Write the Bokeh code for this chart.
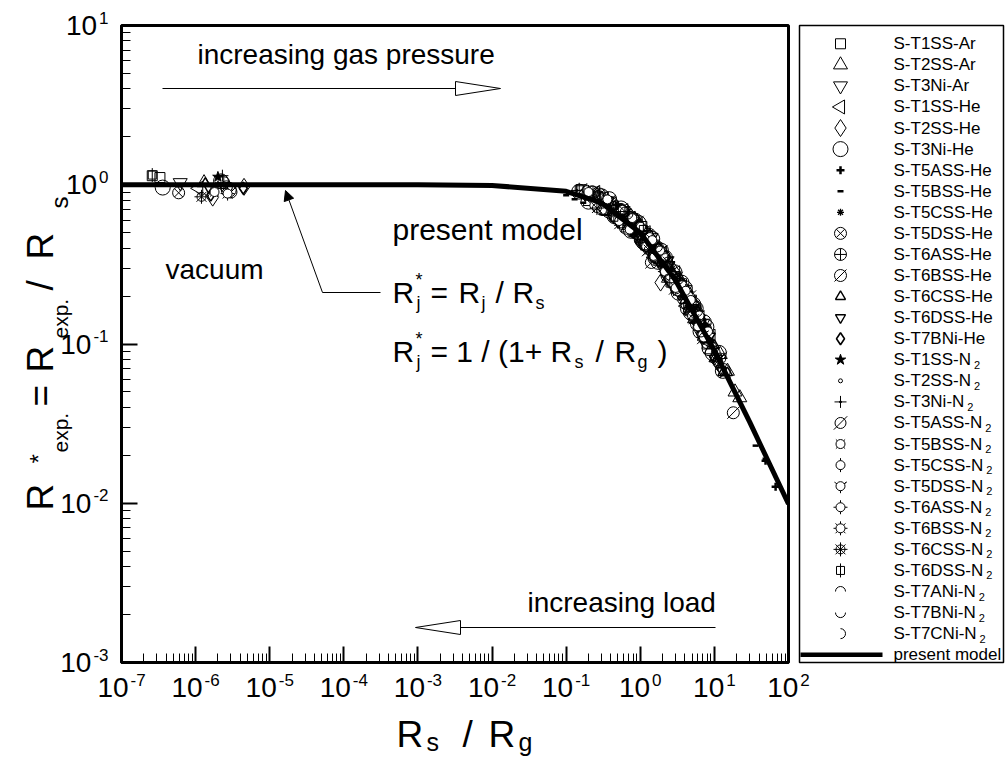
import math
from bokeh.plotting import figure
from bokeh.models import Range1d, FixedTicker, Label, CustomJSTickFormatter, Arrow, NormalHead, GridBox
from bokeh.layouts import row, column
from bokeh.embed import file_html
from bokeh.resources import INLINE
from bokeh.core.properties import value

FONT = "Liberation Sans"

# ---------------- data ----------------
x_ticks = [1e-7, 1e-6, 1e-5, 1e-4, 1e-3, 1e-2, 1e-1, 1e0, 1e1, 1e2]
x_tick_exp = ["-7", "-6", "-5", "-4", "-3", "-2", "-1", "0", "1", "2"]
y_ticks = [1e-3, 1e-2, 1e-1, 1e0, 1e1]
y_tick_exp = ["-3", "-2", "-1", "0", "1"]

model_x = [1e-7, 1e-6, 1e-5, 1e-4, 1e-3, 1e-2, 0.1, 0.3, 1.0, 3.0, 10.0, 30.0, 100.0]
model_y = [1.0, 1.0, 1.0, 1.0, 0.999, 0.99, 0.909, 0.769, 0.5, 0.25, 0.0909, 0.0323, 0.0099]

x_T1SS_Ar = [2.6e-7, 3.3e-7, 0.16, 0.35, 0.62, 0.8, 1.05, 1.5, 2.0, 2.6, 3.6, 4.5, 6.2, 8.0,
             0.25, 0.5, 1.25, 1.75, 3.0, 5.3]
y_T1SS_Ar = [1.14, 1.11, 0.931, 0.689, 0.679, 0.511, 0.547, 0.368, 0.353, 0.245, 0.239, 0.171, 0.150, 0.100,
             0.848, 0.627, 0.48, 0.342, 0.265, 0.146]
x_T2SS_Ar = [1.3e-6, 0.21, 0.45, 0.68, 0.9, 1.25, 1.8, 2.4, 3.5, 4.8, 6.0, 9.0, 12, 19, 22,
             0.3, 0.55, 1.05, 1.5, 2.1, 2.9, 4.1, 5.4, 7.5, 10.5, 15]
y_T2SS_Ar = [1.03, 0.785, 0.759, 0.536, 0.589, 0.413, 0.393, 0.259, 0.249, 0.163, 0.157, 0.092, 0.086, 0.05, 0.046,
             0.815, 0.606, 0.527, 0.368, 0.342, 0.241, 0.212, 0.144, 0.125, 0.082, 0.0675]
x_T3Ni_Ar = [6.2e-7, 0.3, 0.5, 0.7, 1.1, 1.4, 1.9, 2.3, 3.0, 4.0, 5.5, 7.0, 10.5]
y_T3Ni_Ar = [1.03, 0.846, 0.6, 0.635, 0.428, 0.467, 0.317, 0.333, 0.225, 0.22, 0.143, 0.135, 0.08]
x_T1SS_He = [1.1e-6, 0.25, 0.42, 0.6, 0.95, 1.2, 1.65, 2.0, 2.8, 3.0, 4.2, 5.0, 7.5, 9.0,
             0.32, 0.75, 1.35, 2.4, 3.5, 5.8, 11]
y_T1SS_He = [0.95, 0.896, 0.634, 0.688, 0.472, 0.5, 0.339, 0.373, 0.237, 0.28, 0.173, 0.184, 0.106, 0.112,
             0.712, 0.617, 0.4, 0.318, 0.209, 0.159, 0.078]
x_T2SS_He = [1.7e-6, 4.5e-6, 0.18, 0.5, 0.75, 1.0, 1.35, 1.88, 2.2, 2.8, 3.8, 5.2, 6.5, 8.5, 11]
y_T2SS_He = [0.83, 0.97, 0.889, 0.6, 0.628, 0.45, 0.469, 0.243, 0.281, 0.289, 0.187, 0.177, 0.12, 0.116, 0.077]
x_T3Ni_He = [3.6e-7, 2.2e-6, 2.8e-6, 0.15, 0.3, 0.45, 0.55, 0.75, 0.95, 1.1, 1.3, 1.6, 1.9, 2.4, 2.9,
             3.3, 4.0, 4.8, 5.6, 6.5, 7.8, 9.5, 11.5, 13,
             0.2, 0.38, 0.65, 0.85, 1.2, 1.45, 1.75, 2.15, 2.65, 3.6, 4.4, 5.2, 6.0, 7.2, 8.6]
y_T3Ni_He = [0.96, 1.05, 0.93, 0.905, 0.846, 0.635, 0.71, 0.514, 0.575, 0.438, 0.479, 0.347, 0.386, 0.27,
             0.282, 0.21, 0.224, 0.158, 0.167, 0.12, 0.128, 0.0876, 0.088, 0.0678,
             0.783, 0.812, 0.545, 0.595, 0.428, 0.457, 0.328, 0.349, 0.258, 0.243, 0.167, 0.177, 0.134,
             0.137, 0.094]
x_T5ASS_He = [3.8, 8.5, 49, 67]
y_T5ASS_He = [0.2, 0.105, 0.0185, 0.0127]
x_T5BSS_He = [0.1, 0.13, 0.17, 36, 49]
y_T5BSS_He = [0.86, 0.81, 0.77, 0.023, 0.019]
x_T5CSS_He = [2.0e-6, 0.4, 0.85, 1.3, 1.95, 2.7, 4.3, 5.5]
y_T5CSS_He = [1.0, 0.786, 0.486, 0.478, 0.305, 0.297, 0.17, 0.169]
x_T5DSS_He = [5.9e-7, 2.6e-6, 0.22, 0.48, 0.65, 1.0, 1.7, 2.5, 4.2, 7.0, 0.35, 0.8, 1.3, 2.1, 3.2, 5.5]
y_T5DSS_He = [0.89, 0.97, 0.902, 0.622, 0.667, 0.45, 0.407, 0.257, 0.211, 0.115,
              0.697, 0.612, 0.409, 0.355, 0.224, 0.169]
x_T6ASS_He = [2.4e-6, 0.28, 0.58, 0.85, 1.15, 2.1, 3.1, 5.2, 8.0]
y_T6ASS_He = [1.03, 0.875, 0.57, 0.594, 0.419, 0.355, 0.22, 0.177, 0.102]
x_T6BSS_He = [3.0e-6, 0.23, 0.7, 1.41, 2.2, 3.1, 6.0, 18]
y_T6BSS_He = [0.9, 0.9, 0.578, 0.325, 0.31, 0.26, 0.138, 0.037]
x_T6CSS_He = [1.35e-6, 0.33, 0.6, 1.0, 1.5, 2.2, 3.3, 4.6, 5.8, 7.5, 10, 13, 15,
              0.45, 0.8, 1.25, 1.8, 2.7, 4.0, 6.6]
y_T6CSS_He = [1.02, 0.677, 0.688, 0.45, 0.44, 0.281, 0.256, 0.161, 0.162, 0.106, 0.098, 0.066, 0.066,
              0.731, 0.523, 0.471, 0.336, 0.286, 0.188, 0.14]
x_T6DSS_He = [1.5e-6, 0.38, 0.8, 1.15, 1.75, 2.5, 3.4, 4.4, 6.6, 8.8, 12.5]
y_T6DSS_He = [0.96, 0.798, 0.5, 0.512, 0.328, 0.315, 0.204, 0.204, 0.119, 0.112, 0.068]
x_T7BNi_He = [4.4e-6, 1.6e-6, 0.42, 0.95, 1.45, 1.75, 2.6, 3.6, 5.0, 6.8, 9.8]
y_T7BNi_He = [0.95, 0.86, 0.634, 0.564, 0.367, 0.4, 0.25, 0.239, 0.15, 0.141, 0.083]
x_T1SS_N2 = [2.0e-6, 0.5, 0.8, 1.05, 1.6, 2.0, 3.0, 3.9, 5.3, 7.5]
y_T1SS_N2 = [1.12, 0.734, 0.5, 0.537, 0.347, 0.366, 0.225, 0.224, 0.143, 0.13]
x_T2SS_N2 = [0.6, 0.9, 1.25, 1.8, 2.9, 4.0, 5.6, 9.2]
y_T2SS_N2 = [0.575, 0.568, 0.408, 0.386, 0.236, 0.216, 0.14, 0.106]
x_T3Ni_N2 = [2.3e-6, 0.14, 0.7, 1.0, 1.6, 2.3, 3.4, 4.7, 6.2]
y_T3Ni_N2 = [1.14, 0.921, 0.647, 0.45, 0.424, 0.273, 0.25, 0.158, 0.153]
x_T5ASS_N2 = [0.27, 0.55, 0.9, 1.3, 1.9, 3.0, 4.6, 7.2, 12]
y_T5ASS_N2 = [0.85, 0.58, 0.579, 0.392, 0.38, 0.225, 0.197, 0.11, 0.081]
x_T5BSS_N2 = [1.8e-6, 0.32, 0.78, 1.55, 2.1, 3.2, 4.5, 6.0]
y_T5BSS_N2 = [0.9, 0.697, 0.618, 0.353, 0.355, 0.214, 0.2, 0.129]
x_T5CSS_N2 = [0.36, 0.72, 1.35, 2.45, 3.7, 5.0, 8.2]
y_T5CSS_N2 = [0.809, 0.523, 0.469, 0.261, 0.234, 0.15, 0.12]
x_T5DSS_N2 = [0.24, 0.58, 1.2, 1.85, 2.7, 4.8, 6.9]
y_T5DSS_N2 = [0.742, 0.696, 0.41, 0.386, 0.243, 0.189, 0.114]
x_T6ASS_N2 = [0.19, 0.47, 1.02, 2.15, 4.1, 7.2]
y_T6ASS_N2 = [0.924, 0.612, 0.545, 0.285, 0.216, 0.11]
x_T6BSS_N2 = [2.7e-6, 0.2, 0.52, 1.45, 3.0, 6.3]
y_T6BSS_N2 = [0.88, 0.9, 0.592, 0.449, 0.225, 0.151]
x_T6CSS_N2 = [1.2e-6, 0.26, 0.62, 1.3, 2.35, 5.3]
y_T6CSS_N2 = [0.84, 0.714, 0.679, 0.391, 0.329, 0.143]
x_T6DSS_N2 = [2.6e-7, 0.15, 0.44, 1.1, 2.5]
y_T6DSS_N2 = [1.15, 0.93, 0.625, 0.524, 0.257]
x_T7ANi_N2 = [0.55, 1.15, 2.2, 3.7, 7.8, 14]
y_T7ANi_N2 = [0.71, 0.419, 0.344, 0.192, 0.125, 0.061]
x_T7BNi_N2 = [0.3, 0.68, 1.5, 3.3, 6.6, 11.5]
y_T7BNi_N2 = [0.692, 0.655, 0.36, 0.256, 0.119, 0.088]
x_T7CNi_N2 = [0.4, 0.88, 1.7, 3.05, 5.9, 10.5]
y_T7CNi_N2 = [0.786, 0.479, 0.407, 0.222, 0.16, 0.078]

SERIES = [
    ("S-T1SS-Ar", "sq", x_T1SS_Ar, y_T1SS_Ar),
    ("S-T2SS-Ar", "tri", x_T2SS_Ar, y_T2SS_Ar),
    ("S-T3Ni-Ar", "itri", x_T3Ni_Ar, y_T3Ni_Ar),
    ("S-T1SS-He", "ltri", x_T1SS_He, y_T1SS_He),
    ("S-T2SS-He", "dia", x_T2SS_He, y_T2SS_He),
    ("S-T3Ni-He", "cir", x_T3Ni_He, y_T3Ni_He),
    ("S-T5ASS-He", "pbold", x_T5ASS_He, y_T5ASS_He),
    ("S-T5BSS-He", "dbold", x_T5BSS_He, y_T5BSS_He),
    ("S-T5CSS-He", "ast", x_T5CSS_He, y_T5CSS_He),
    ("S-T5DSS-He", "cx", x_T5DSS_He, y_T5DSS_He),
    ("S-T6ASS-He", "cc", x_T6ASS_He, y_T6ASS_He),
    ("S-T6BSS-He", "cslash", x_T6BSS_He, y_T6BSS_He),
    ("S-T6CSS-He", "stri", x_T6CSS_He, y_T6CSS_He),
    ("S-T6DSS-He", "sitri", x_T6DSS_He, y_T6DSS_He),
    ("S-T7BNi-He", "sdia", x_T7BNi_He, y_T7BNi_He),
    ("S-T1SS-N2", "star", x_T1SS_N2, y_T1SS_N2),
    ("S-T2SS-N2", "dot", x_T2SS_N2, y_T2SS_N2),
    ("S-T3Ni-N2", "pthin", x_T3Ni_N2, y_T3Ni_N2),
    ("S-T5ASS-N2", "cslash2", x_T5ASS_N2, y_T5ASS_N2),
    ("S-T5BSS-N2", "cxt", x_T5BSS_N2, y_T5BSS_N2),
    ("S-T5CSS-N2", "cvt", x_T5CSS_N2, y_T5CSS_N2),
    ("S-T5DSS-N2", "cyt", x_T5DSS_N2, y_T5DSS_N2),
    ("S-T6ASS-N2", "cpt", x_T6ASS_N2, y_T6ASS_N2),
    ("S-T6BSS-N2", "cat", x_T6BSS_N2, y_T6BSS_N2),
    ("S-T6CSS-N2", "cax", x_T6CSS_N2, y_T6CSS_N2),
    ("S-T6DSS-N2", "sqv", x_T6DSS_N2, y_T6DSS_N2),
    ("S-T7ANi-N2", "cap", x_T7ANi_N2, y_T7ANi_N2),
    ("S-T7BNi-N2", "cup", x_T7BNi_N2, y_T7BNi_N2),
    ("S-T7CNi-N2", "sup", x_T7CNi_N2, y_T7CNi_N2),
]
MODEL_LABEL = "present model"

# ---------------- marker styles ----------------
PI = math.pi
KINDS = {
    "sq": [("square", 10, 1, None, 0)],
    "tri": [("triangle", 14, 1, None, 0)],
    "itri": [("inverted_triangle", 14, 1, None, 0)],
    "ltri": [("triangle", 14, 1, None, PI / 2)],
    "dia": [("diamond", 17, 1, None, 0)],
    "cir": [("circle", 15, 1, None, 0)],
    "pbold": [("cross", 8, 2.5, None, 0)],
    "dbold": [("dash", 6, 2.5, None, 0)],
    "ast": [("asterisk", 7, 1.3, None, 0)],
    "cx": [("circle_x", 12, 1, None, 0)],
    "cc": [("circle_cross", 12, 1, None, 0)],
    "cslash": [("circle", 12, 1, None, 0), ("dash", 17, 1, None, PI / 4)],
    "stri": [("triangle", 10, 1.4, None, 0)],
    "sitri": [("inverted_triangle", 10, 1.4, None, 0)],
    "sdia": [("diamond", 12, 1.6, None, 0)],
    "star": [("star", 11, 1, "black", 0)],
    "dot": [("circle", 4, 1, None, 0)],
    "pthin": [("cross", 12, 1, None, 0), ("circle", 2, 1, "black", 0)],
    "cslash2": [("circle", 11, 1, None, 0), ("dash", 19, 1, None, PI / 4)],
    "cxt": [("x", 13, 1, None, 0), ("circle", 9, 1, "white", 0)],
    "cvt": [("dash", 14, 1, None, PI / 2), ("circle", 9, 1, "white", 0)],
    "cyt": [("y", 14, 1, None, 0), ("circle", 9, 1, "white", 0)],
    "cpt": [("cross", 14, 1, None, 0), ("circle", 9, 1, "white", 0)],
    "cat": [("asterisk", 14, 1, None, 0), ("circle", 9, 1, "white", 0)],
    "cax": [("asterisk", 14, 1, None, 0), ("circle", 9, 1, None, 0)],
    "sqv": [("dash", 14, 1, None, PI / 2), ("square", 8, 1, None, 0)],
    "cap": [("arc", 5, 0.0, PI)],
    "cup": [("arc", 5, PI, 2 * PI)],
    "sup": [("arc", 5, -PI / 2, PI / 2)],
}


def draw(fig, kind, xs, ys):
    for layer in KINDS[kind]:
        if layer[0] == "arc":
            _, r, a0, a1 = layer
            fig.arc(x=xs, y=ys, radius=r, radius_units="screen", start_angle=a0,
                    end_angle=a1, line_color="black", line_width=1)
        else:
            m, size, lw, fill, ang = layer
            fig.scatter(x=xs, y=ys, marker=m, size=size, line_color="black",
                        line_width=lw, fill_color=fill, angle=ang)


# ---------------- text metrics (Arial / Liberation Sans) ----------------
W = {" ": 278, "*": 389, "(": 333, ")": 333, "+": 584, "-": 333, ".": 278, "/": 278,
     "=": 584, "A": 667, "B": 667, "C": 722, "D": 722, "H": 722, "N": 722, "R": 722,
     "S": 667, "T": 611, "a": 556, "c": 500, "d": 556, "e": 556, "g": 556, "i": 222,
     "j": 222, "l": 222, "m": 833, "n": 556, "o": 556, "p": 556, "r": 333, "s": 500,
     "t": 278, "u": 556, "v": 500, "x": 500}
MID = 0.358   # distance (in em) from baseline up to the "middle" anchor


def tw(text, size):
    return sum(W.get(c, 556) for c in text) * size / 1000.0


# ---------------- main plot ----------------
FL, FT, FW, FH = 121, 25, 667, 637
FB = FT + FH
PW, TOTW, TOTH = FL + FW + 10, 1005, 762

p = figure(width=PW, height=TOTH, x_axis_type="log", y_axis_type="log",
           x_range=Range1d(x_ticks[0], x_ticks[-1]), y_range=Range1d(y_ticks[0], y_ticks[-1]),
           min_border_left=FL, min_border_right=10, min_border_top=FT,
           min_border_bottom=TOTH - FB, toolbar_location=None, output_backend="svg",
           title=None)
p.grid.visible = False
p.outline_line_color = "black"
p.outline_line_width = 3

minor_x = [m * t for t in x_ticks[:-1] for m in range(2, 10)]
minor_y = [m * t for t in y_ticks[:-1] for m in range(2, 10)]
p.xaxis.ticker = FixedTicker(ticks=x_ticks, minor_ticks=minor_x)
p.yaxis.ticker = FixedTicker(ticks=y_ticks, minor_ticks=minor_y)
for ax in (p.xaxis[0], p.yaxis[0]):
    ax.axis_line_width = 3
    ax.major_tick_in = 16
    ax.major_tick_out = 0
    ax.major_tick_line_width = 2
    ax.minor_tick_in = 9
    ax.minor_tick_out = 0
    ax.minor_tick_line_width = 1
    ax.formatter = CustomJSTickFormatter(code="return ''")
    ax.major_label_standoff = 0

for name, kind, xs, ys in SERIES:
    draw(p, kind, xs, ys)
p.line(model_x, model_y, line_color="black", line_width=5)

# ---------------- legend panel ----------------
LH = 638
lg = figure(width=TOTW - PW, height=TOTH, x_range=Range1d(0, 204),
            y_range=Range1d(LH, 0), min_border_left=1, min_border_right=2,
            min_border_top=FT, min_border_bottom=TOTH - FT - LH,
            toolbar_location=None, output_backend="svg", title=None,
            x_axis_location=None, y_axis_location=None)
lg.grid.visible = False
lg.outline_line_color = "black"
lg.outline_line_width = 1.5

ROW0, ROWH, MX, TX = 18.3, 21.1, 41, 94
main_txt, sub_x, sub_y, rows = [], [], [], []
for i, (name, kind, xs, ys) in enumerate(SERIES):
    ry = ROW0 + i * ROWH
    rows.append(ry)
    draw(lg, kind, [MX], [ry])
    if name.endswith("N2"):
        base = name[:-1]
        main_txt.append(base)
        sub_x.append(TX + tw(base, 17) + 3)
        sub_y.append(ry + 5)
    else:
        main_txt.append(name)
mrow = ROW0 + len(SERIES) * ROWH
lg.line([1, 83], [mrow, mrow], line_color="black", line_width=4.5)
main_txt.append(MODEL_LABEL)
rows.append(mrow)
lg.text(x=[TX] * len(main_txt), y=rows, text=main_txt, text_font=value(FONT),
        text_font_size="17px", text_baseline="middle", text_align="left", text_color="black")
lg.text(x=sub_x, y=sub_y, text=["2"] * len(sub_x), text_font=value(FONT),
        text_font_size="11px", text_baseline="middle", text_align="left", text_color="black")

# ---------------- transparent overlay for all free texts (canvas pixels) ----------------
ov = figure(width=TOTW, height=TOTH, x_range=Range1d(0, TOTW), y_range=Range1d(TOTH, 0),
            min_border=0, min_border_left=0, min_border_right=0, min_border_top=0,
            min_border_bottom=0, toolbar_location=None, output_backend="svg", title=None,
            x_axis_location=None, y_axis_location=None)
ov.grid.visible = False
ov.outline_line_color = None
ov.background_fill_color = None
ov.border_fill_color = None


def put(text, px, py, size, align="left", angle=0.0):
    ov.add_layout(Label(x=px, y=py, text=text, text_font=FONT, text_font_size=f"{size}px",
                        text_align=align, text_baseline="middle", angle=angle,
                        text_color="black"))


def put_b(text, px, base_y, size, align="left"):
    """horizontal text given by its baseline"""
    put(text, px, base_y - MID * size, size, align)


def put_v(text, base_x, py, size):
    """text rotated 90 degrees given by its baseline (a vertical line at base_x)"""
    put(text, base_x - MID * size, py, size, angle=PI / 2)


def x_to_px(x):
    lo, hi = math.log10(x_ticks[0]), math.log10(x_ticks[-1])
    return FL + (math.log10(x) - lo) / (hi - lo) * FW


def y_to_py(y):
    lo, hi = math.log10(y_ticks[0]), math.log10(y_ticks[-1])
    return FB - (math.log10(y) - lo) / (hi - lo) * FH


# tick labels
TS, ES = 28, 17
for t, e in zip(x_ticks, x_tick_exp):
    cx = x_to_px(t)
    w10, we = tw("10", TS), tw(e, ES)
    left = cx - (w10 + 2 + we) / 2
    put("10", left, FB + 25, TS)
    put(e, left + w10 + 2, FB + 17, ES)
for t, e in zip(y_ticks, y_tick_exp):
    cy = y_to_py(t)
    we = tw(e, ES)
    put(e, FL - 13, cy - 8, ES, align="right")
    put("10", FL - 13 - we - 2, cy, TS, align="right")

# x axis title  R_s / R_g
BT, ST = 37, 25
for txt, sz, x, yb in [("R", BT, 396, 747), ("s", ST, 426, 750), ("/", BT, 462, 747),
                       ("R", BT, 488, 747), ("g", ST, 518, 750)]:
    put_b(txt, x, yb, sz)

# y axis title (rotated); t = distance along the text from py=510
YB = 53
for txt, sz, t, bx in [("R", BT, 0, YB), ("*", 24, 47, YB - 6), ("exp.", 21, 58, YB + 15),
                       ("=", BT, 104, YB), ("R", BT, 138, YB), ("exp.", 21, 172, YB + 15),
                       ("/", BT, 220, YB), ("R", BT, 251, YB), ("s", 24, 302, YB + 15)]:
    put_v(txt, bx, 510 - t, sz)

# in-plot annotations
AS = 28
put_b("increasing gas pressure", 197, 64, AS)
put_b("present model", 392, 240, 30)
put_b("vacuum", 165, 279, AS)
FS, FSS = 30, 18
for txt, sz, x, d in [("R", FS, 392, 0), ("*", FSS, 415, -17), ("j", FSS, 416, 6),
                      ("=", FS, 430, 0), ("R", FS, 458, 0), ("j", FSS, 481, 6),
                      ("/", FS, 495, 0), ("R", FS, 512, 0), ("s", FSS, 535, 6)]:
    put_b(txt, x, 303 + d, sz)
for txt, sz, x, d in [("R", FS, 392, 0), ("*", FSS, 415, -17), ("j", FSS, 416, 6),
                      ("= 1 / (1+ R", FS, 430, 0), ("s", FSS, 574, 6), ("/", FS, 595, 0),
                      ("R", FS, 614, 0), ("g", FSS, 637, 6), (")", FS, 657, 0)]:
    put_b(txt, x, 362 + d, sz)
put_b("increasing load", 527, 612, AS)


def big_arrow(x_tail, x_base, x_tip, y, half):
    ov.line([x_tail, x_base], [y, y], line_color="black", line_width=1)
    ov.patch([x_base, x_tip, x_base], [y - half, y, y + half],
             fill_color="white", line_color="black", line_width=1)


big_arrow(162, 455, 500, 88, 7)
big_arrow(715, 460, 415, 627, 7)

ov.line([380, 322], [292, 292], line_color="black", line_width=1)
ov.add_layout(Arrow(x_start=322, y_start=292, x_end=285, y_end=190, line_width=1,
                    end=NormalHead(size=10, fill_color="black", line_color="black")))

layout = GridBox(children=[(row(p, lg), 0, 0), (column(ov), 0, 0)])
open("out.html", "w").write(file_html(layout, INLINE))
